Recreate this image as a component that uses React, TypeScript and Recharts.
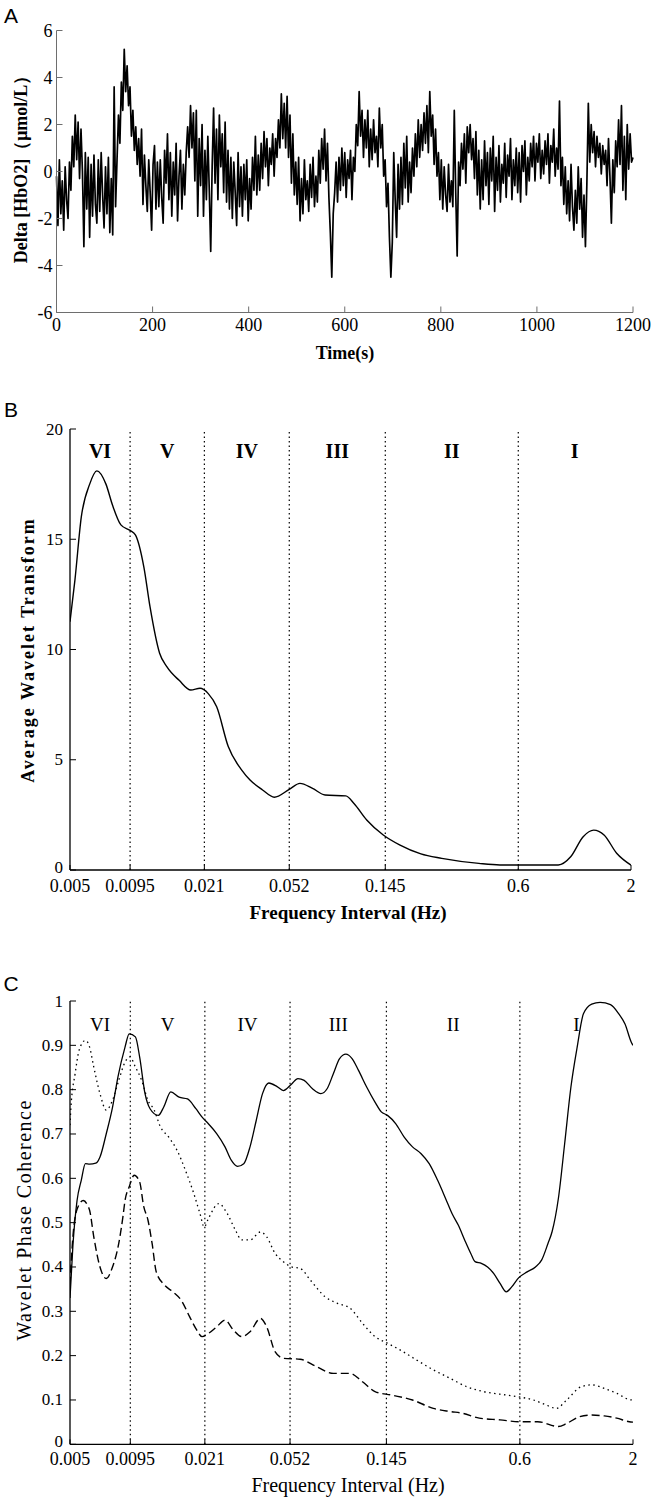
import React from 'react';
import { LineChart, ComposedChart, Line, XAxis, YAxis, ReferenceLine, ReferenceDot } from 'recharts';

const SERIF = '"Liberation Serif", "Times New Roman", serif';
const SANS = '"Liberation Sans", Arial, sans-serif';

// ---------- Panel A : Delta [HbO2] time series ----------
const A_STEP_S = 3;
const A_VALUES = [
  -0.2, -2.3, 0.5, -1.8, -0.4, -2.5, 0.2, -1.2, -2.0, 0.4,
  -0.8, 1.5, 0.2, 2.4, 0.5, 2.1, -0.3, 1.8, 0.0, -3.2,
  0.8, -1.6, 0.6, -2.8, 0.3, -1.9, 0.7, -1.4, -2.2, 0.5,
  -1.7, 0.8, -1.0, -2.4, 0.2, -1.8, 0.6, -2.6, -0.3, -2.7,
  3.6, -1.5, 0.5, 2.4, 1.2, 3.8, 2.6, 5.2, 3.4, 4.5,
  2.8, 3.6, 1.5, 2.6, 0.9, 1.9, 0.3, 1.4, -0.2, 1.8,
  -1.4, 0.7, -0.6, -1.7, 0.5, -0.9, -2.5, 0.3, 1.1, -1.6,
  0.4, -1.5, 0.5, -1.1, -2.2, 0.9, -0.5, 1.6, -1.2, 0.8,
  -1.9, 0.4, -1.0, 1.2, -2.1, -0.2, 0.9, -1.6, 0.3, -1.0,
  0.8, 1.9, 0.6, 2.8, 1.0, 2.5, -0.4, 2.6, -1.9, 1.4,
  -0.6, 2.0, -1.9, 0.9, -1.2, 1.5, -0.8, -3.4, 0.2, 2.7,
  -0.5, 1.8, -1.2, 2.4, 0.2, 1.6, -0.9, 2.1, -1.3, 0.9,
  -1.6, 0.6, -2.0, 0.4, -0.9, -2.3, 0.8, -1.5, 0.2, -1.9,
  0.3, -1.2, 0.5, -2.1, -0.3, -1.6, 0.6, -0.8, 1.5, -1.0,
  0.7, -0.8, 1.2, -0.3, 1.7, 0.2, 1.4, -0.6, 1.0, 0.3,
  1.6, -0.2, 1.4, 0.6, 2.2, 1.0, 3.3, 1.4, 2.9, 1.0,
  3.2, 0.6, 2.4, -0.5, 1.6, -1.0, 0.4, -1.4, 0.6, -2.1,
  -0.3, -1.8, 0.5, -1.2, -0.4, -1.7, 0.3, -1.1, 0.6, -1.5,
  -0.2, -1.3, 0.9, -0.5, 1.4, 0.1, 1.8, -0.4, 1.2, -1.1,
  -2.6, -4.5, -1.8, -0.9, 0.4, -1.3, 0.6, -0.8, 1.0, -0.6,
  0.8, -1.1, 0.5, -0.3, 0.9, -1.2, 0.6, 0.0, 2.0, 1.1,
  3.4, 1.5, 2.6, 0.6, 2.2, 1.0, 2.6, 0.2, 1.8, 0.5,
  2.2, 0.8, 1.5, 0.2, 2.7, 1.0, 2.0, -0.2, 0.5, -1.5,
  -0.5, -2.8, -4.5, -3.0, 0.8, -1.2, -2.8, 0.3, -1.6, 0.6,
  -1.4, 1.2, -0.7, 1.5, -1.3, 0.4, -0.9, 1.0, -0.2, 1.6,
  0.2, 2.2, 0.6, 2.0, 0.9, 2.5, 1.2, 2.8, 0.8, 3.4,
  1.5, 2.4, 0.3, 1.8, -0.2, 0.8, -1.2, 0.5, -1.6, 0.2,
  -1.0, -1.7, 0.3, -1.3, -0.4, -1.5, 2.6, -0.9, -3.6, 0.4,
  -0.6, 1.2, 0.1, 1.6, -0.5, 1.9, 0.8, 2.0, 0.5, 1.4,
  -0.3, 1.7, -1.0, 0.9, -1.6, 0.5, -1.2, 1.3, -0.6, 0.8,
  -1.4, 1.0, -0.4, 1.5, -1.7, 0.6, -0.8, 1.1, -1.3, 0.3,
  -0.5, 1.2, -1.1, 0.7, -0.2, 1.4, -1.2, 0.5, -0.6, 1.0,
  -0.9, 0.8, -1.3, 1.1, 0.0, 1.3, -1.0, 0.6, -0.4, 1.2,
  0.2, 1.5, -0.4, 1.2, 0.4, 1.6, -0.3, 0.9, -0.1, 1.3,
  0.3, 1.6, -0.5, 1.1, 0.4, 1.8, -0.2, 1.0, 0.1, 3.0,
  -0.6, 0.6, -1.4, 0.2, -1.8, -0.4, -2.1, 0.3, -1.5, -2.5,
  -0.8, -2.2, 0.2, -1.6, -0.3, -2.8, -1.0, -3.2, -0.5, 2.9,
  0.4, 2.0, 0.8, 1.7, 0.2, 1.5, 0.6, 1.2, -0.1, 1.1,
  0.3, 0.9, -0.6, 1.4, -0.2, -2.2, 0.5, -0.9, 1.3, 0.2,
  2.2, 0.3, 2.8, -0.8, 1.5, -1.2, 2.0, 0.1, 1.6, 0.4,
  0.6,
];
const A_X_TICKS = [0, 200, 400, 600, 800, 1000, 1200];
const A_Y_TICKS = [-6, -4, -2, 0, 2, 4, 6];

// ---------- shared frequency axis ----------
const FREQ_TICKS = [0.005, 0.0095, 0.021, 0.052, 0.145, 0.6, 2];
const BAND_EDGES = [0.0095, 0.021, 0.052, 0.145, 0.6];
const BAND_LABELS = ['VI', 'V', 'IV', 'III', 'II', 'I'];
const BAND_CENTERS = [0.00689, 0.01412, 0.03305, 0.08683, 0.295, 1.0954];

// ---------- Panel B : average wavelet transform ----------
const B_FREQ = [0.005, 0.00527, 0.00564, 0.00617, 0.00666, 0.00734, 0.00787, 0.00861, 0.0095, 0.01005,
  0.011, 0.01175, 0.01302, 0.01406, 0.01604, 0.01817, 0.02005, 0.02189, 0.02395, 0.0271,
  0.0313, 0.0342, 0.0391, 0.0443, 0.052, 0.0583, 0.0667, 0.0762, 0.0951, 0.1038,
  0.1189, 0.1419, 0.1698, 0.212, 0.265, 0.394, 0.493, 0.92, 1.05, 1.2,
  1.343, 1.5, 1.716, 2.0];
const B_VALUES = [11.26, 13.15, 16.0, 17.5, 18.1, 17.5, 16.55, 15.65, 15.4, 15.2,
  13.75, 11.94, 9.83, 9.22, 8.6, 8.16, 8.24, 8.0, 7.4, 5.6,
  4.53, 4.08, 3.63, 3.3, 3.66, 3.93, 3.7, 3.4, 3.36, 3.02,
  2.27, 1.59, 1.13, 0.73, 0.53, 0.3, 0.23, 0.23, 0.6, 1.51,
  1.81, 1.59, 0.76, 0.22];
const B_Y_TICKS = [0, 5, 10, 15, 20];

// ---------- Panel C : wavelet phase coherence ----------
const C_SOLID_FREQ = [0.005, 0.00516, 0.00539, 0.00564, 0.00589, 0.00616, 0.00658, 0.00688, 0.00735, 0.00786,
  0.00833, 0.00898, 0.00939, 0.01003, 0.01049, 0.01111, 0.01172, 0.0128, 0.01356, 0.01462,
  0.01597, 0.01746, 0.01909, 0.0204, 0.0218, 0.02381, 0.02602, 0.02781, 0.02972, 0.03177,
  0.03396, 0.0363, 0.03879, 0.04146, 0.0453, 0.04842, 0.05292, 0.05654, 0.06043, 0.06604,
  0.07216, 0.07712, 0.08243, 0.0881, 0.09417, 0.1006, 0.1076, 0.1175, 0.1284, 0.1373,
  0.1467, 0.1603, 0.1752, 0.1914, 0.2092, 0.2286, 0.2498, 0.273, 0.2918, 0.3119,
  0.3334, 0.3563, 0.3724, 0.3981, 0.4254, 0.4547, 0.4859, 0.5194, 0.5501, 0.5933,
  0.6482, 0.7084, 0.7571, 0.8092, 0.8458, 0.9042, 0.9663, 1.033, 1.104, 1.18,
  1.289, 1.409, 1.574, 1.72, 1.837, 1.964, 2.0];
const C_SOLID = [0.33, 0.45, 0.55, 0.596, 0.633, 0.632, 0.634, 0.648, 0.7, 0.76,
  0.829, 0.896, 0.926, 0.919, 0.874, 0.791, 0.757, 0.742, 0.761, 0.795,
  0.783, 0.779, 0.757, 0.738, 0.723, 0.701, 0.671, 0.641, 0.627, 0.633,
  0.671, 0.731, 0.791, 0.815, 0.807, 0.798, 0.813, 0.825, 0.821, 0.802,
  0.791, 0.802, 0.836, 0.87, 0.88, 0.87, 0.844, 0.806, 0.772, 0.75,
  0.742, 0.723, 0.693, 0.671, 0.656, 0.633, 0.596, 0.553, 0.52, 0.494,
  0.461, 0.43, 0.412, 0.408, 0.4, 0.385, 0.363, 0.344, 0.355, 0.376,
  0.389, 0.4, 0.416, 0.453, 0.48, 0.555, 0.678, 0.806, 0.896, 0.971,
  0.993, 0.997, 0.992, 0.971, 0.948, 0.907, 0.9];

const C_DOTTED_FREQ = [0.005, 0.00505, 0.00528, 0.00551, 0.00589, 0.00616, 0.00644, 0.00688, 0.00735, 0.00786,
  0.0084, 0.00898, 0.00947, 0.01003, 0.01072, 0.01146, 0.01225, 0.01309, 0.0143, 0.01563,
  0.01708, 0.01866, 0.01995, 0.02085, 0.0218, 0.02436, 0.02661, 0.02908, 0.03108, 0.03396,
  0.03795, 0.04056, 0.04432, 0.04842, 0.05292, 0.05783, 0.06461, 0.07543, 0.08619, 0.09847,
  0.1124, 0.1284, 0.1467, 0.1675, 0.2001, 0.2388, 0.2853, 0.3406, 0.4067, 0.4859,
  0.5933, 0.6928, 0.791, 0.8841, 0.9877, 1.153, 1.289, 1.472, 1.682, 1.964, 2.0];
const C_DOTTED = [0.72, 0.76, 0.836, 0.889, 0.911, 0.896, 0.851, 0.791, 0.754, 0.776,
  0.821, 0.862, 0.874, 0.851, 0.821, 0.776, 0.754, 0.716, 0.693, 0.663,
  0.618, 0.566, 0.52, 0.49, 0.509, 0.543, 0.521, 0.483, 0.461, 0.461,
  0.479, 0.468, 0.431, 0.412, 0.4, 0.397, 0.37, 0.333, 0.318, 0.307,
  0.273, 0.243, 0.228, 0.213, 0.19, 0.168, 0.149, 0.13, 0.119, 0.113,
  0.107, 0.1, 0.089, 0.081, 0.1, 0.13, 0.134, 0.126, 0.115, 0.1, 0.1];

const C_DASHED_FREQ = [0.005, 0.00516, 0.00539, 0.00576, 0.00603, 0.00616, 0.00644, 0.00688, 0.00735, 0.00786,
  0.0084, 0.00878, 0.00898, 0.00939, 0.0099, 0.01049, 0.01096, 0.01146, 0.01198, 0.01252,
  0.01368, 0.01495, 0.01633, 0.01785, 0.01909, 0.0204, 0.0218, 0.02381, 0.02602, 0.02844,
  0.03108, 0.03396, 0.03795, 0.04056, 0.04432, 0.04842, 0.05783, 0.06903, 0.08243, 0.09847,
  0.1124, 0.1284, 0.1533, 0.1914, 0.2388, 0.2853, 0.326, 0.3892, 0.4859, 0.5933,
  0.7244, 0.9042, 0.9877, 1.128, 1.289, 1.472, 1.682, 1.921, 2.0];
const C_DASHED = [0.36, 0.47, 0.53, 0.55, 0.539, 0.528, 0.468, 0.4, 0.374, 0.4,
  0.453, 0.513, 0.55, 0.581, 0.607, 0.592, 0.536, 0.506, 0.453, 0.389,
  0.359, 0.344, 0.325, 0.288, 0.261, 0.243, 0.25, 0.265, 0.28, 0.258,
  0.243, 0.254, 0.284, 0.265, 0.209, 0.194, 0.192, 0.175, 0.16, 0.16,
  0.141, 0.119, 0.111, 0.1, 0.081, 0.074, 0.07, 0.059, 0.055, 0.051,
  0.051, 0.04, 0.047, 0.062, 0.066, 0.064, 0.059, 0.051, 0.05];
const C_Y_TICKS = [0, 0.1, 0.2, 0.3, 0.4, 0.5, 0.6, 0.7, 0.8, 0.9, 1];

// ---------- build tables ----------
const aData = A_VALUES.map((v, i) => ({ t: i * A_STEP_S, v }));
const bData = B_FREQ.map((f, i) => ({ f, v: B_VALUES[i] }));
const cSolid = C_SOLID_FREQ.map((f, i) => ({ f, v: C_SOLID[i] }));
const cDotted = C_DOTTED_FREQ.map((f, i) => ({ f, v: C_DOTTED[i] }));
const cDashed = C_DASHED_FREQ.map((f, i) => ({ f, v: C_DASHED[i] }));

// ---------- tick renderers (MATLAB-style inward ticks) ----------
type TickOpts = {
  len: number; color: string; fs?: number; offset?: number; label?: boolean; weight?: string; zeroLift?: number;
};
const bottomTick = (o: TickOpts) => (p: any) => (
  <g>
    {o.len > 0 && <line x1={p.x} y1={p.y} x2={p.x} y2={p.y - o.len} stroke={o.color} strokeWidth={1} />}
    {o.label && (
      <text x={p.x} y={p.y + (o.offset || 0)} textAnchor="middle" dominantBaseline="central"
        fontFamily={SERIF} fontSize={o.fs} fontWeight={o.weight || 'normal'} fill="#000">
        {String(p.payload.value)}
      </text>
    )}
  </g>
);
const topTick = (o: TickOpts) => (p: any) => (
  <g>{o.len > 0 && <line x1={p.x} y1={p.y} x2={p.x} y2={p.y + o.len} stroke={o.color} strokeWidth={1} />}</g>
);
const leftTick = (o: TickOpts) => (p: any) => (
  <g>
    {o.len > 0 && <line x1={p.x} y1={p.y} x2={p.x + o.len} y2={p.y} stroke={o.color} strokeWidth={1} />}
    {o.label && (
      <text x={p.x - (o.offset || 0)} y={p.y - (p.payload.value === 0 ? (o.zeroLift || 0) : 0)}
        textAnchor="end" dominantBaseline="central" fontFamily={SERIF} fontSize={o.fs} fill="#000">
        {String(p.payload.value)}
      </text>
    )}
  </g>
);
const rightTick = (o: TickOpts) => (p: any) => (
  <g>{o.len > 0 && <line x1={p.x} y1={p.y} x2={p.x - o.len} y2={p.y} stroke={o.color} strokeWidth={1} />}</g>
);

const romanShape = (label: string, fs: number, weight: string) => (p: any) => (
  <text x={p.cx} y={p.cy} textAnchor="middle" dominantBaseline="central" fontFamily={SERIF}
    fontSize={fs} fontWeight={weight} fill="#000">{label}</text>
);

const A_FRAME = '#6e6e6e';

function PanelA() {
  return (
    <LineChart width={653} height={340} data={aData} margin={{ top: 30.5, right: 20, bottom: 0, left: 0 }}>
      <XAxis xAxisId="b" dataKey="t" type="number" domain={[0, 1200]} ticks={A_X_TICKS} interval={0}
        height={27.5} tickSize={0} tickMargin={0} axisLine={{ stroke: A_FRAME }} tickLine={false}
        tick={bottomTick({ len: 6, color: A_FRAME, fs: 18, offset: 12, label: true })} />
      <XAxis xAxisId="t" orientation="top" dataKey="t" type="number" domain={[0, 1200]} ticks={A_X_TICKS} interval={0}
        height={0} tickSize={0} tickMargin={0} axisLine={{ stroke: A_FRAME }} tickLine={false}
        tick={topTick({ len: 6, color: A_FRAME })} />
      <YAxis yAxisId="l" type="number" domain={[-6, 6]} ticks={A_Y_TICKS} interval={0} width={56.5}
        tickSize={0} tickMargin={0} axisLine={{ stroke: A_FRAME }} tickLine={false}
        tick={leftTick({ len: 6, color: A_FRAME, fs: 18, offset: 4, label: true })} />
      <YAxis yAxisId="r" orientation="right" type="number" domain={[-6, 6]} ticks={A_Y_TICKS} interval={0} width={0}
        tickSize={0} tickMargin={0} axisLine={{ stroke: A_FRAME }} tickLine={false}
        tick={rightTick({ len: 6, color: A_FRAME })} />
      <Line xAxisId="b" yAxisId="l" dataKey="v" type="linear" stroke="#000" strokeWidth={1.7}
        strokeLinejoin="round" dot={false} isAnimationActive={false} />
    </LineChart>
  );
}

function freqAxes(yTicks: number[], yDomain: [number, number], xHeight: number, xOffset: number) {
  return [
    <XAxis key="xb" xAxisId="b" dataKey="f" type="number" scale="log" domain={[0.005, 2]} allowDataOverflow
      ticks={FREQ_TICKS} interval={0} height={xHeight} tickSize={0} tickMargin={0}
      axisLine={{ stroke: '#000', strokeWidth: 1.3 }} tickLine={false}
      tick={bottomTick({ len: 5, color: '#000', fs: 18, offset: xOffset, label: true })} />,
    <XAxis key="xt" xAxisId="t" orientation="top" dataKey="f" type="number" scale="log" domain={[0.005, 2]}
      allowDataOverflow ticks={FREQ_TICKS} interval={0} height={0} tickSize={0} tickMargin={0}
      axisLine={{ stroke: '#000', strokeWidth: 1.3 }} tickLine={false} tick={false} />,
    <YAxis key="yl" yAxisId="l" type="number" domain={yDomain} ticks={yTicks} interval={0} width={70}
      tickSize={0} tickMargin={0} axisLine={{ stroke: '#000', strokeWidth: 1.3 }} tickLine={false}
      tick={leftTick({ len: 6, color: '#000', fs: 17, offset: 7, label: true, zeroLift: 3 })} />,
    <YAxis key="yr" yAxisId="r" orientation="right" type="number" domain={yDomain} ticks={yTicks} interval={0}
      width={0} tickSize={0} tickMargin={0} axisLine={{ stroke: '#000', strokeWidth: 1.3 }} tickLine={false}
      tick={rightTick({ len: 6, color: '#000' })} />,
  ];
}

function bands(yLabel: number, fs: number, weight: string) {
  return [
    ...BAND_EDGES.map((e) => (
      <ReferenceLine key={'e' + e} xAxisId="b" yAxisId="l" x={e} stroke="#000" strokeWidth={1.2}
        strokeDasharray="1.5 3" />
    )),
    ...BAND_LABELS.map((lab, i) => (
      <ReferenceDot key={'r' + lab} xAxisId="b" yAxisId="l" x={BAND_CENTERS[i]} y={yLabel} r={0}
        shape={romanShape(lab, fs, weight)} />
    )),
  ];
}

function PanelB() {
  return (
    <ComposedChart width={653} height={500} margin={{ top: 29, right: 22, bottom: 0, left: 0 }}>
      {freqAxes(B_Y_TICKS, [0, 20], 30, 16)}
      {bands(19.0, 20, 'bold')}
      <Line xAxisId="b" yAxisId="l" data={bData} dataKey="v" type="monotone" stroke="#000" strokeWidth={1.4}
        dot={false} isAnimationActive={false} />
    </ComposedChart>
  );
}

function PanelC() {
  return (
    <ComposedChart width={653} height={500} margin={{ top: 21, right: 20, bottom: 0, left: 0 }}>
      {freqAxes(C_Y_TICKS, [0, 1], 35.7, 15)}
      {bands(0.947, 19, 'normal')}
      <Line xAxisId="b" yAxisId="l" data={cDotted} dataKey="v" type="monotone" stroke="#000" strokeWidth={1.3}
        strokeDasharray="1.5 3.5" dot={false} isAnimationActive={false} />
      <Line xAxisId="b" yAxisId="l" data={cDashed} dataKey="v" type="monotone" stroke="#000" strokeWidth={1.4}
        strokeDasharray="8 4" dot={false} isAnimationActive={false} />
      <Line xAxisId="b" yAxisId="l" data={cSolid} dataKey="v" type="monotone" stroke="#000" strokeWidth={1.3}
        dot={false} isAnimationActive={false} />
    </ComposedChart>
  );
}

export default function App() {
  return (
    <div style={{ position: 'absolute', left: 0, top: 0, width: 653, height: 1501, background: '#fff' }}>
      <div style={{ position: 'absolute', left: 0, top: 0 }}><PanelA /></div>
      <div style={{ position: 'absolute', left: 0, top: 400 }}><PanelB /></div>
      <div style={{ position: 'absolute', left: 0, top: 980 }}><PanelC /></div>
      <svg width={653} height={1501} style={{ position: 'absolute', left: 0, top: 0, pointerEvents: 'none' }}>
        <text x={11} y={15} fontFamily={SANS} fontSize={21} textAnchor="middle" dominantBaseline="central">A</text>
        <text x={11} y={409} fontFamily={SANS} fontSize={21} textAnchor="middle" dominantBaseline="central">B</text>
        <text x={11} y={983} fontFamily={SANS} fontSize={21} textAnchor="middle" dominantBaseline="central">C</text>

        <text x={21} y={165} transform="rotate(-90 21 165)" fontFamily={SERIF} fontSize={18} fontWeight="bold"
          textAnchor="middle" dominantBaseline="central">Delta [HbO2]（μmol/L）</text>
        <text x={345} y={353} fontFamily={SERIF} fontSize={18} fontWeight="bold" textAnchor="middle"
          dominantBaseline="central">Time(s)</text>

        <text x={28} y={650} transform="rotate(-90 28 650)" fontFamily={SERIF} fontSize={18} fontWeight="bold"
          letterSpacing={2} textAnchor="middle" dominantBaseline="central">Average Wavelet Transform</text>
        <text x={348} y={912} fontFamily={SERIF} fontSize={19} fontWeight="bold" textAnchor="middle"
          dominantBaseline="central">Frequency Interval (Hz)</text>

        <text x={24} y={1220} transform="rotate(-90 24 1220)" fontFamily={SERIF} fontSize={20}
          letterSpacing={1.5} textAnchor="middle" dominantBaseline="central">Wavelet Phase Coherence</text>
        <text x={348} y={1485} fontFamily={SERIF} fontSize={20} textAnchor="middle"
          dominantBaseline="central">Frequency Interval (Hz)</text>
      </svg>
    </div>
  );
}
